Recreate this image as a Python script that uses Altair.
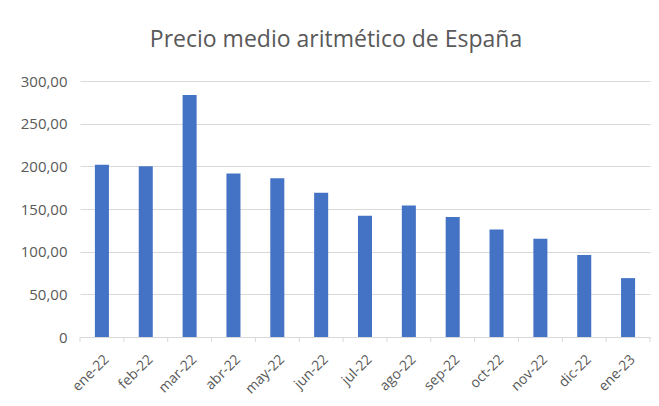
import altair as alt
import pandas as pd

months = ["ene-22", "feb-22", "mar-22", "abr-22", "may-22", "jun-22", "jul-22",
          "ago-22", "sep-22", "oct-22", "nov-22", "dic-22", "ene-23"]
prices = [202.0, 200.0, 283.5, 191.5, 186.0, 169.0, 142.0,
          154.0, 140.5, 126.0, 115.0, 96.0, 69.0]
y_ticks = [0, 50, 100, 150, 200, 250, 300]

df = pd.DataFrame({"mes": months, "precio": prices})
df_last = df.tail(1)

grey = "#595959"
line_grey = "#d9d9d9"
font = "Open Sans"

bars = alt.Chart(df).mark_bar(color="#4472C4").encode(
    x=alt.X("mes:N", sort=months, title=None,
            scale=alt.Scale(domain=months, paddingInner=0.68, paddingOuter=0.34),
            axis=alt.Axis(labelAngle=-45, labelAlign="right", labelBaseline="top",
                          ticks=False, labelPadding=15, domainColor=line_grey,
                          labelColor=grey, labelFont=font, labelFontSize=14,
                          grid=False)),
    y=alt.Y("precio:Q", title=None,
            scale=alt.Scale(domain=[0, 300], nice=False),
            axis=alt.Axis(values=y_ticks, domain=False, ticks=False,
                          labelPadding=13, gridColor=line_grey,
                          labelColor=grey, labelFont=font, labelFontSize=15,
                          labelExpr="datum.value == 0 ? '0' : replace(format(datum.value, '.2f'), '.', ',')")),
)

tick_scale = alt.Scale(domain=months, paddingInner=0, paddingOuter=0)

ticks = alt.Chart(df).mark_rule(color=line_grey).encode(
    x=alt.X("mes:N", sort=months, scale=tick_scale, bandPosition=0, axis=None),
    y=alt.value(256), y2=alt.value(261),
)

last_tick = alt.Chart(df_last).mark_rule(color=line_grey).encode(
    x=alt.X("mes:N", sort=months, scale=tick_scale, bandPosition=1, axis=None),
    y=alt.value(256), y2=alt.value(261),
)

chart = alt.layer(bars, ticks, last_tick).resolve_scale(x="independent").properties(
    width=570, height=256,
    title=alt.TitleParams("Precio medio aritmético de España", fontSize=23,
                          font=font, fontWeight="normal", color=grey,
                          anchor="middle", dx=-29, offset=22),
    autosize=alt.AutoSizeParams(type="none"),
    padding={"left": 72, "top": 73, "right": 1, "bottom": 61},
).configure_view(stroke=None)

chart.save("out.html", embed_options={"renderer": "svg", "actions": False})
